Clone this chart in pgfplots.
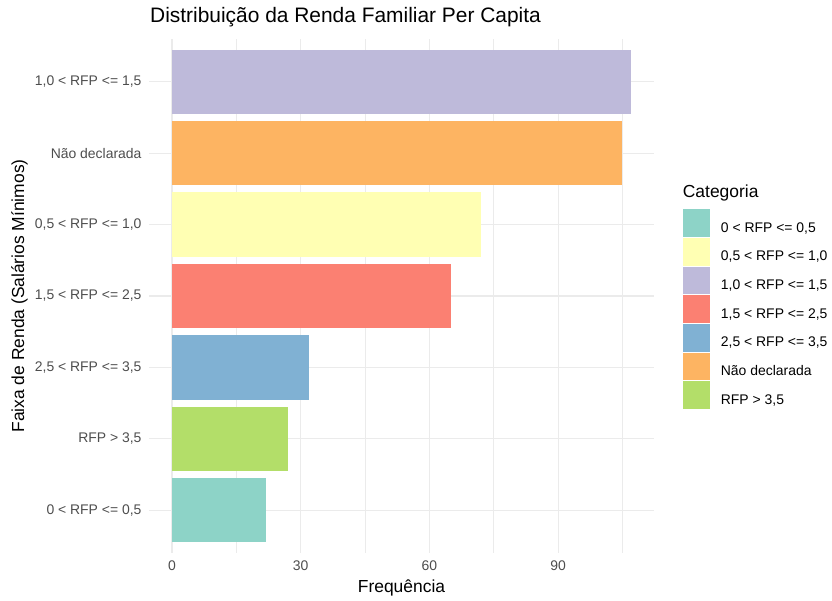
\documentclass[border=0pt]{standalone}
\usepackage{pgfplots}
\pgfplotsset{compat=1.18}
\usepackage{fontspec}
\setmainfont{Liberation Sans}

\definecolor{c1}{HTML}{8DD3C7}
\definecolor{c2}{HTML}{FFFFB3}
\definecolor{c3}{HTML}{BEBADA}
\definecolor{c4}{HTML}{FB8072}
\definecolor{c5}{HTML}{80B1D3}
\definecolor{c6}{HTML}{FDB462}
\definecolor{c7}{HTML}{B3DE69}
\definecolor{gridc}{HTML}{EBEBEB}
\definecolor{tickc}{HTML}{4D4D4D}

\begin{document}
\begin{tikzpicture}[x=1bp,y=1bp]
\useasboundingbox (0,0) rectangle (832,601);
\begin{axis}[
    at={(149bp,48bp)}, anchor=south west,
    scale only axis, width=505bp, height=514bp,
    xmin=-5.35, xmax=112.35, ymin=0.4, ymax=7.6,
    xbar, bar width=0.9, bar shift=0pt,
    xtick={0,30,60,90}, minor xtick={15,45,75,105},
    ytick={1,...,7},
    yticklabels={{0 < RFP <= 0,5}, {RFP > 3,5}, {2,5 < RFP <= 3,5}, {1,5 < RFP <= 2,5}, {0,5 < RFP <= 1,0}, {Não declarada}, {1,0 < RFP <= 1,5}},
    /pgf/number format/assume math mode=true,
    xmajorgrids, xminorgrids, ymajorgrids,
    major grid style={gridc, line width=1.1bp},
    minor grid style={gridc, line width=0.55bp},
    axis line style={draw=none},
    major tick length=0pt, minor tick length=0pt,
    tick label style={font=\fontsize{14}{16}\selectfont, text=tickc},
    xticklabel style={yshift=-4bp},
    yticklabel style={xshift=-4bp},
    title={Distribuição da Renda Familiar Per Capita},
    title style={at={(0,1)}, anchor=base west, yshift=11bp, xshift=1bp, inner sep=0pt, font=\fontsize{21}{24}\selectfont},
    xlabel={Frequência},
    xlabel style={at={(0.5,0)}, anchor=base, yshift=-40bp, inner sep=0pt, font=\fontsize{17.5}{20}\selectfont},
    ylabel={Faixa de Renda (Salários Mínimos)},
    ylabel style={at={(-0.2475,0.5)}, anchor=base, rotate=0, inner sep=0pt, font=\fontsize{17.5}{20}\selectfont},
    legend style={at={(1.0568,0.6693)}, anchor=north west, draw=none, fill=none,
        inner sep=0pt, row sep=1bp, column sep=10.7bp,
        nodes={inner sep=0pt, font=\fontsize{14}{16}\selectfont}},
    legend cell align=left,
    legend image code/.code={\fill[#1] (0bp,-8.85bp) rectangle (27.3bp,18.85bp);},
]
\addplot[fill=c1, draw=none] coordinates {(22,1)};
\addlegendentry{0 < RFP <= 0,5}
\addplot[fill=c2, draw=none] coordinates {(72,5)};
\addlegendentry{0,5 < RFP <= 1,0}
\addplot[fill=c3, draw=none] coordinates {(107,7)};
\addlegendentry{1,0 < RFP <= 1,5}
\addplot[fill=c4, draw=none] coordinates {(65,4)};
\addlegendentry{1,5 < RFP <= 2,5}
\addplot[fill=c5, draw=none] coordinates {(32,3)};
\addlegendentry{2,5 < RFP <= 3,5}
\addplot[fill=c6, draw=none] coordinates {(105,6)};
\addlegendentry{Não declarada}
\addplot[fill=c7, draw=none] coordinates {(27,2)};
\addlegendentry{RFP > 3,5}
\end{axis}
\node[anchor=base west, inner sep=0pt, font=\fontsize{17.5}{20}\selectfont] at (682.7,403.3) {Categoria};
\end{tikzpicture}
\end{document}
